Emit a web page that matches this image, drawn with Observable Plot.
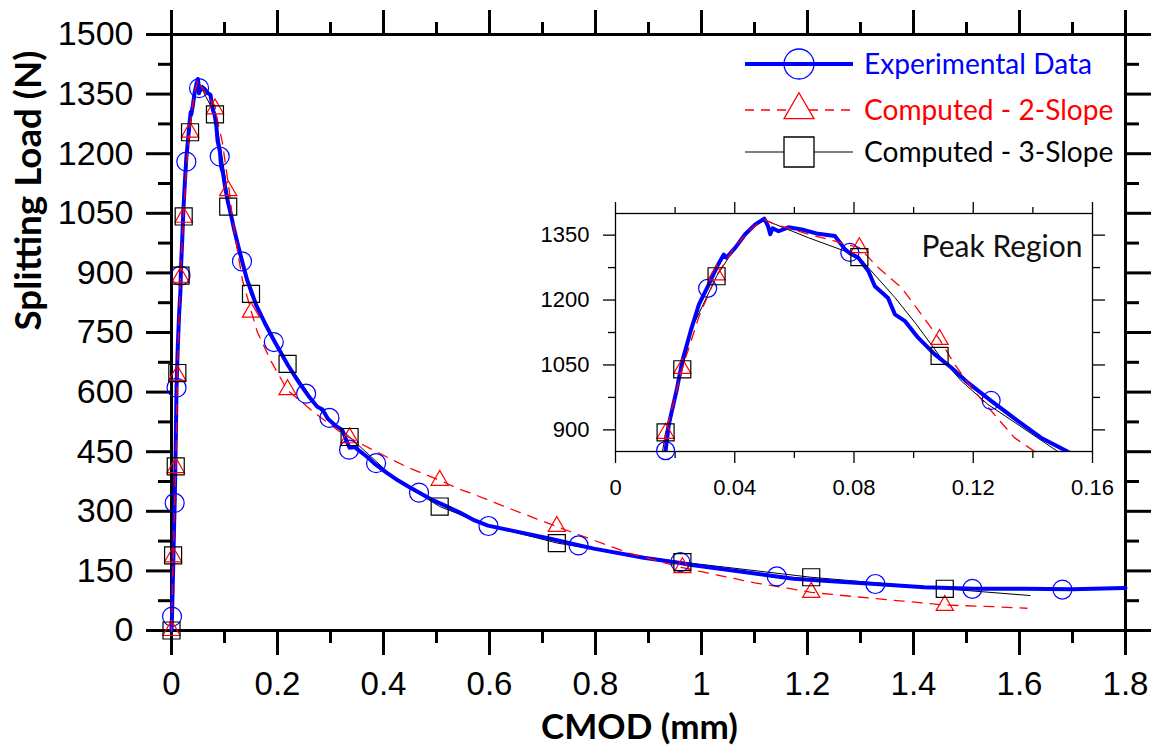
<!DOCTYPE html>
<html>
<head>
<meta charset="utf-8">
<script src="https://cdn.jsdelivr.net/npm/d3@7"></script>
<script src="https://cdn.jsdelivr.net/npm/@observablehq/plot@0.6"></script>
<style>
html, body { margin: 0; padding: 0; background: #fff; }
#wrap { position: relative; width: 1155px; height: 754px; overflow: hidden; background: #fff; }
#wrap > svg { position: absolute; }
</style>
</head>
<body>
<div id="wrap"></div>
<script>
// ---------------- DATA ----------------
// Experimental curve (CMOD mm, splitting load N)
const expCmod = [0, 0.001, 0.003, 0.005, 0.006, 0.008, 0.0095, 0.012, 0.0145, 0.0168, 0.0179, 0.0207, 0.0224, 0.0252, 0.028, 0.0313, 0.0341, 0.0363, 0.0372, 0.0402, 0.0435, 0.0469, 0.0499, 0.0512, 0.0519, 0.0527, 0.0547, 0.058, 0.0625, 0.068, 0.0736, 0.077, 0.0786, 0.0814, 0.0848, 0.087, 0.0914, 0.0937, 0.097, 0.1015, 0.107, 0.1126, 0.1182, 0.126, 0.1349, 0.1427, 0.1521, 0.16, 0.176, 0.195, 0.22, 0.24, 0.258, 0.275, 0.285, 0.295, 0.31, 0.322, 0.33, 0.336, 0.345, 0.37, 0.383, 0.405, 0.427, 0.45, 0.471, 0.493, 0.515, 0.545, 0.572, 0.597, 0.64, 0.715, 0.77, 0.797, 0.891, 0.96, 0.985, 1.08, 1.142, 1.174, 1.231, 1.328, 1.42, 1.514, 1.608, 1.70, 1.797, 1.80];
const expLoad = [0, 40, 150, 270, 321, 470, 611, 720, 800, 852, 913, 998, 1059, 1128, 1190, 1236, 1278, 1305, 1298, 1321, 1352, 1375, 1388, 1370, 1352, 1366, 1359, 1368, 1363, 1353, 1348, 1317, 1308, 1298, 1267, 1232, 1205, 1167, 1152, 1113, 1075, 1044, 1009, 967, 921, 882, 848, 818, 774, 726, 667, 625, 591, 563, 556, 533, 515, 505, 478, 460, 462, 436, 420, 398, 378, 360, 344, 328, 315, 296, 277, 264, 252, 231, 214, 206, 183, 170, 164, 147, 136, 130, 125, 117, 109, 105, 105, 104, 107, 107];

// Computed - 2-Slope curve
const slope2Cmod = [0, 0.003, 0.008, 0.011, 0.0168, 0.0224, 0.028, 0.0339, 0.040, 0.045, 0.0499, 0.0536, 0.0647, 0.0736, 0.0818, 0.0881, 0.0959, 0.1026, 0.1087, 0.1137, 0.1193, 0.127, 0.1338, 0.151, 0.162, 0.187, 0.218, 0.269, 0.319, 0.336, 0.382, 0.445, 0.506, 0.545, 0.57, 0.64, 0.726, 0.797, 0.86, 0.964, 1.05, 1.10, 1.165, 1.207, 1.29, 1.38, 1.459, 1.55, 1.614];
const slope2Load = [0, 185, 410, 642, 892, 1042, 1162, 1257, 1322, 1362, 1386, 1375, 1352, 1336, 1321, 1275, 1229, 1167, 1109, 1052, 998, 936, 882, 801, 751, 680, 606, 549, 499, 485, 453, 411, 378, 355, 343, 306, 262, 227, 196, 158, 134, 120, 106, 96, 85, 74, 64, 60, 56];

// Computed - 3-Slope curve
const slope3Cmod = [0, 0.003, 0.008, 0.011, 0.0168, 0.0224, 0.0257, 0.0339, 0.040, 0.045, 0.0499, 0.0536, 0.0647, 0.077, 0.0818, 0.0853, 0.0937, 0.1009, 0.1087, 0.116, 0.1249, 0.149, 0.18, 0.22, 0.28, 0.336, 0.42, 0.506, 0.6, 0.728, 0.85, 0.964, 1.207, 1.459, 1.62];
const slope3Load = [0, 189, 413, 648, 894, 1040, 1136, 1255, 1320, 1362, 1385, 1375, 1344, 1313, 1299, 1271, 1206, 1144, 1071, 1013, 959, 847, 762, 671, 555, 487, 384, 312, 263, 220, 193, 172, 134, 105, 88];

// Marker positions, main chart
const expMarkCmod = [0.001, 0.006, 0.0095, 0.017, 0.028, 0.052, 0.091, 0.133, 0.193, 0.254, 0.298, 0.335, 0.386, 0.467, 0.598, 0.768, 0.960, 1.142, 1.328, 1.511, 1.681];
const expMarkLoad = [35, 321, 611, 893, 1180, 1365, 1193, 929, 726, 596, 535, 455, 421, 347, 263, 214, 172, 136, 117, 105, 103];
const compMarkCmod = [0, 0.003, 0.008, 0.011, 0.017, 0.023, 0.035, 0.082, 0.107, 0.150, 0.219, 0.336, 0.506, 0.727, 0.964, 1.207, 1.459];
const slope2MarkLoad = [0, 185, 410, 642, 889, 1040, 1254, 1313, 1107, 801, 606, 485, 378, 262, 158, 96, 63];
const slope3MarkLoad = [0, 189, 413, 648, 893, 1042, 1254, 1299, 1067, 847, 671, 487, 312, 220, 172, 134, 105];

// Marker positions, inset (peak region)
const insetExpMarkCmod = [0.0168, 0.0309, 0.0786, 0.126];
const insetExpMarkLoad = [852, 1227, 1310, 968];
const insetCompMarkCmod = [0.0168, 0.0224, 0.0339, 0.0818, 0.1087];
const insetSlope2MarkLoad = [892, 1042, 1258, 1321, 1109];
const insetSlope3MarkLoad = [894, 1040, 1255, 1299, 1071];

// Ticks
const xTicks = [0, 0.2, 0.4, 0.6, 0.8, 1, 1.2, 1.4, 1.6, 1.8];
const xTickLabels = ["0", "0.2", "0.4", "0.6", "0.8", "1", "1.2", "1.4", "1.6", "1.8"];
const xMinorTicks = [0.1, 0.3, 0.5, 0.7, 0.9, 1.1, 1.3, 1.5, 1.7];
const yTicks = [0, 150, 300, 450, 600, 750, 900, 1050, 1200, 1350, 1500];
const yTickLabels = ["0", "150", "300", "450", "600", "750", "900", "1050", "1200", "1350", "1500"];
const yMinorTicks = [75, 225, 375, 525, 675, 825, 975, 1125, 1275, 1425];
const insetXTicks = [0, 0.04, 0.08, 0.12, 0.16];
const insetXTickLabels = ["0", "0.04", "0.08", "0.12", "0.16"];
const insetXMinorTicks = [0.02, 0.06, 0.10, 0.14];
const insetYTicks = [900, 1050, 1200, 1350];
const insetYTickLabels = ["900", "1050", "1200", "1350"];
const insetYMinorTicks = [975, 1125, 1275];

const seriesNames = ["Experimental Data", "Computed - 2-Slope", "Computed - 3-Slope"];
const xTitle = "CMOD (mm)";
const yTitle = "Splitting Load (N)";
const insetTitle = "Peak Region";

// ---------------- HELPERS ----------------
const BLUE = "#0000ff", RED = "#ff0000", BLACK = "#000000";
const zip = (xs, ys) => xs.map((x, i) => ({x, y: ys[i]}));
const labeler = (vals, labs) => { const m = new Map(vals.map((v, i) => [v, labs[i]])); return d => m.get(d) ?? ""; };
const ctx = document.createElement("canvas").getContext("2d");
function fitSize(text, weight, family, target) {
  ctx.font = `${weight} 100px ${family}`;
  return 100 * target / ctx.measureText(text).width;
}
const TITLE_FONT = "Lato, 'Open Sans', sans-serif";
const TICK_FONT = "'Liberation Sans', Arial, sans-serif";

const expData = zip(expCmod, expLoad);
const s2Data = zip(slope2Cmod, slope2Load);
const s3Data = zip(slope3Cmod, slope3Load);

const W = 1155, H = 754;
const wrap = document.getElementById("wrap");

// ---------------- MAIN CHART ----------------
const xTitleSize = fitSize(xTitle, "bold", TITLE_FONT, 197);
const yTitleSize = fitSize(yTitle, "bold", TITLE_FONT, 280);

const main = Plot.plot({
  width: W, height: H,
  marginLeft: 171, marginRight: 30, marginTop: 34, marginBottom: 124,
  x: {domain: [0, 1.8]},
  y: {domain: [0, 1500]},
  style: {fontFamily: TICK_FONT, background: "transparent", overflow: "visible"},
  marks: [
    Plot.axisX({anchor: "bottom", ticks: xTicks, tickSize: 25, tickPadding: 16, strokeWidth: 3, tickFormat: labeler(xTicks, xTickLabels), fontSize: 33, label: null}),
    Plot.axisX({anchor: "bottom", ticks: xMinorTicks, tickSize: 13, strokeWidth: 3, tickFormat: () => "", label: null}),
    Plot.axisX({anchor: "top", ticks: xTicks, tickSize: 25, strokeWidth: 3, tickFormat: () => "", label: null}),
    Plot.axisX({anchor: "top", ticks: xMinorTicks, tickSize: 13, strokeWidth: 3, tickFormat: () => "", label: null}),
    Plot.axisY({anchor: "left", ticks: yTicks, tickSize: 25, tickPadding: 13, strokeWidth: 3, tickFormat: labeler(yTicks, yTickLabels), fontSize: 34, label: null}),
    Plot.axisY({anchor: "left", ticks: yMinorTicks, tickSize: 13, strokeWidth: 3, tickFormat: () => "", label: null}),
    Plot.axisY({anchor: "right", ticks: yTicks, tickSize: 25, strokeWidth: 3, tickFormat: () => "", label: null}),
    Plot.axisY({anchor: "right", ticks: yMinorTicks, tickSize: 13, strokeWidth: 3, tickFormat: () => "", label: null}),
    Plot.frame({stroke: BLACK, strokeWidth: 3}),
    Plot.line(s3Data, {x: "x", y: "y", stroke: BLACK, strokeWidth: 1}),
    Plot.line(expData, {x: "x", y: "y", stroke: BLUE, strokeWidth: 4, strokeLinejoin: "round"}),
    Plot.line(s2Data, {x: "x", y: "y", stroke: RED, strokeWidth: 1.3, strokeDasharray: "10,8"}),
    Plot.dot(zip(expMarkCmod, expMarkLoad), {x: "x", y: "y", r: 9.5, stroke: BLUE, fill: "none", strokeWidth: 1.2}),
    Plot.dot(zip(compMarkCmod, slope2MarkLoad), {x: "x", y: "y", symbol: "triangle", r: 6.4, stroke: RED, fill: "none", strokeWidth: 1.2}),
    Plot.dot(zip(compMarkCmod, slope3MarkLoad), {x: "x", y: "y", symbol: "square", r: 9.6, stroke: BLACK, fill: "none", strokeWidth: 1.2}),
    Plot.text([xTitle], {frameAnchor: "bottom", dx: -9, dy: 108, lineHeight: 0.9, fontWeight: "bold", fontFamily: TITLE_FONT, fontSize: xTitleSize, fill: BLACK}),
    Plot.text([yTitle], {frameAnchor: "left", dx: -142, dy: -2, rotate: -90, fontWeight: "bold", fontFamily: TITLE_FONT, fontSize: yTitleSize, fill: BLACK})
  ]
});
main.style.left = "0px"; main.style.top = "0px";
wrap.appendChild(main);

// ---------------- INSET ----------------
const IX = 540, IY = 190, IW = 580, IH = 320;
const inset = Plot.plot({
  width: IW, height: IH,
  marginLeft: 75, marginRight: 28, marginTop: 23, marginBottom: 59,
  x: {domain: [0, 0.16]},
  y: {domain: [850, 1400]},
  style: {fontFamily: TICK_FONT, background: "transparent", overflow: "visible"},
  marks: [
    Plot.axisX({anchor: "bottom", ticks: insetXTicks, tickSize: 12, tickPadding: 16, strokeWidth: 1.3, tickFormat: labeler(insetXTicks, insetXTickLabels), fontSize: 22, label: null}),
    Plot.axisX({anchor: "bottom", ticks: insetXMinorTicks, tickSize: 7, strokeWidth: 1.3, tickFormat: () => "", label: null}),
    Plot.axisX({anchor: "top", ticks: insetXTicks, tickSize: 12, strokeWidth: 1.3, tickFormat: () => "", label: null}),
    Plot.axisX({anchor: "top", ticks: insetXMinorTicks, tickSize: 7, strokeWidth: 1.3, tickFormat: () => "", label: null}),
    Plot.axisY({anchor: "left", ticks: insetYTicks, tickSize: 12, tickPadding: 14, strokeWidth: 1.3, tickFormat: labeler(insetYTicks, insetYTickLabels), fontSize: 22, label: null}),
    Plot.axisY({anchor: "left", ticks: insetYMinorTicks, tickSize: 7, strokeWidth: 1.3, tickFormat: () => "", label: null}),
    Plot.axisY({anchor: "right", ticks: insetYTicks, tickSize: 12, strokeWidth: 1.3, tickFormat: () => "", label: null}),
    Plot.axisY({anchor: "right", ticks: insetYMinorTicks, tickSize: 7, strokeWidth: 1.3, tickFormat: () => "", label: null}),
    Plot.frame({stroke: BLACK, strokeWidth: 1.3}),
    Plot.line(s3Data, {x: "x", y: "y", stroke: BLACK, strokeWidth: 1, clip: true}),
    Plot.line(expData, {x: "x", y: "y", stroke: BLUE, strokeWidth: 4, strokeLinejoin: "round", clip: true}),
    Plot.line(s2Data, {x: "x", y: "y", stroke: RED, strokeWidth: 1.3, strokeDasharray: "10,8", clip: true}),
    Plot.dot(zip(insetExpMarkCmod, insetExpMarkLoad), {x: "x", y: "y", r: 9, stroke: BLUE, fill: "none", strokeWidth: 1.2}),
    Plot.dot(zip(insetCompMarkCmod, insetSlope2MarkLoad), {x: "x", y: "y", symbol: "triangle", r: 6.4, stroke: RED, fill: "none", strokeWidth: 1.2}),
    Plot.dot(zip(insetCompMarkCmod, insetSlope3MarkLoad), {x: "x", y: "y", symbol: "square", r: 9.6, stroke: BLACK, fill: "none", strokeWidth: 1.2}),
    Plot.text([insetTitle], {frameAnchor: "top-right", dx: -10, dy: 22, textAnchor: "end", fontFamily: TITLE_FONT, fontSize: fitSize(insetTitle, "normal", TITLE_FONT, 161), fill: "#111"})
  ]
});
inset.style.left = IX + "px"; inset.style.top = IY + "px";
wrap.appendChild(inset);

// ---------------- LEGEND ----------------
const legSize = fitSize(seriesNames[0], "normal", TITLE_FONT, 228);
const legendItems = [
  {name: seriesNames[0], color: BLUE, width: 4, dash: null, symbol: d3.symbolCircle, size: Math.PI * 15 * 15, fill: "none"},
  {name: seriesNames[1], color: RED, width: 1.3, dash: "9,7", symbol: d3.symbolTriangle, size: 388, fill: "#fff"},
  {name: seriesNames[2], color: BLACK, width: 1.2, dash: null, symbol: d3.symbolSquare, size: 900, fill: "#fff"}
];
const legRows = [64, 110, 152];
const leg = d3.select(wrap).append("svg").attr("width", W).attr("height", H).style("left", "0px").style("top", "0px");
legendItems.forEach((it, i) => {
  const g = leg.append("g").attr("transform", `translate(0,${legRows[i]})`);
  g.append("line").attr("x1", 745).attr("x2", 853).attr("y1", 0).attr("y2", 0)
    .attr("stroke", it.color).attr("stroke-width", it.width).attr("stroke-dasharray", it.dash);
  g.append("path").attr("d", d3.symbol(it.symbol, it.size)()).attr("transform", "translate(799,0)")
    .attr("fill", it.fill).attr("stroke", it.color).attr("stroke-width", 1.3);
  g.append("text").attr("x", 864).attr("y", legSize * 0.36).attr("fill", it.color)
    .attr("font-family", TITLE_FONT).attr("font-size", legSize).text(it.name);
});
</script>
</body>
</html>
